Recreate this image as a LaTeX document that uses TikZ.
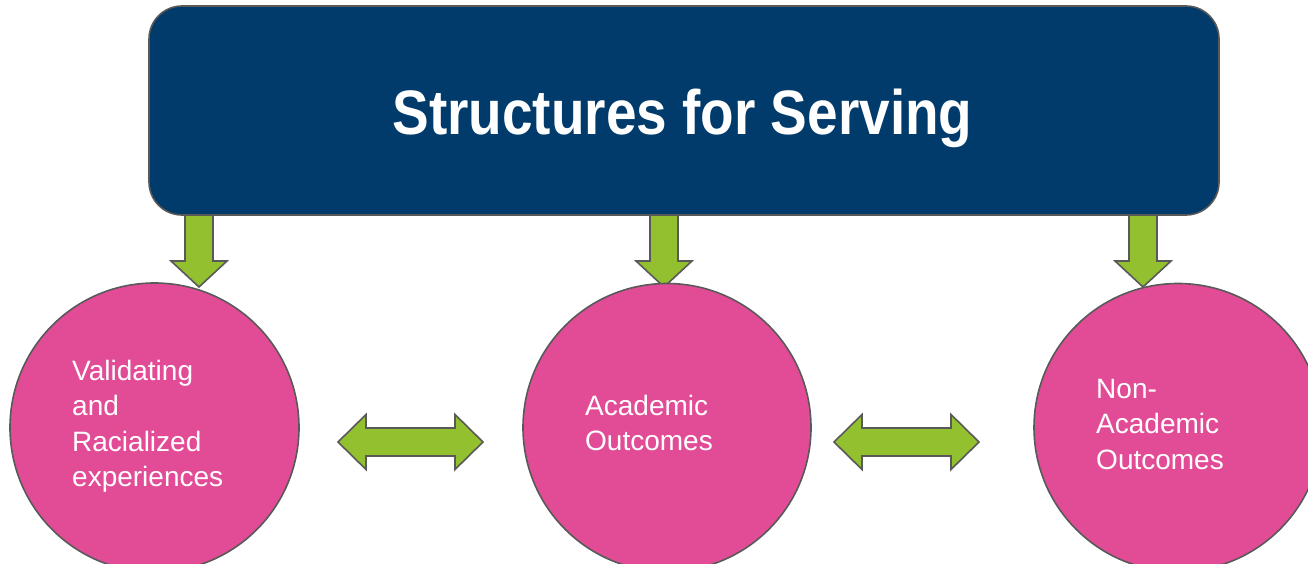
\documentclass[tikz,border=0pt]{standalone}
\usepackage{fontspec}
\setmainfont{Liberation Sans}
\newfontfamily\titlefont[FakeStretch=0.875]{Liberation Sans}
\definecolor{boxblue}{RGB}{0,59,107}
\definecolor{pinkc}{RGB}{226,76,151}
\definecolor{greena}{RGB}{146,192,46}
\definecolor{edgegray}{RGB}{89,89,89}
\tikzset{
  outline/.style={draw=edgegray,line width=1.6pt,line join=miter},
  topbox/.style={outline,fill=boxblue,rounded corners=33pt},
  bubble/.style={outline,fill=pinkc,circle,minimum size=#1,inner sep=0pt},
  blockarrow/.style={outline,fill=greena},
  bubbletext/.style={text=white,inner sep=0pt,anchor=base west,font=\fontsize{28}{35.5}\selectfont},
}
\begin{document}
\begin{tikzpicture}[x=1pt,y=-1pt]
\useasboundingbox (0,0) rectangle (1308,564);
% down arrows (drawn under box and circles)
\foreach \cx/\nm in {199/da, 664/db, 1143/dc}{
  \coordinate (\nm) at (\cx,215);
  \draw[blockarrow] ([xshift=-14pt]\nm) -- ++(0,46) -- ++(-14,0) -- ([yshift=-72pt]\nm)
     -- ([xshift=28pt,yshift=-46pt]\nm) -- ++(-14,0) -- ([xshift=14pt]\nm) -- cycle;
}
% title box
\draw[topbox] (149,6) rectangle (1219,215);
\node[text=white,font=\titlefont\bfseries\fontsize{62.8}{70}\selectfont,anchor=base,inner sep=0pt] (title) at (682.5,135) {Structures for Serving};
% circles
\node[bubble=289pt] (c1) at (154.5,427.5) {};
\node[bubble=288pt] (c2) at (667,427.5) {};
\node[bubble=288pt] (c3) at (1178,427.5) {};
% texts
\node[bubbletext] (t1) at (72,380) {\begin{tabular}[t]{@{}l@{}}Validating\\and\\Racialized\\experiences\end{tabular}};
\node[bubbletext] (t2) at (585,415) {\begin{tabular}[t]{@{}l@{}}Academic\\Outcomes\end{tabular}};
\node[bubbletext] (t3) at (1096,398) {\begin{tabular}[t]{@{}l@{}}Non-\\Academic\\Outcomes\end{tabular}};
% double arrows
\foreach \cx/\nm in {410.5/ha, 906.5/hb}{
  \coordinate (\nm) at (\cx,442);
  \draw[blockarrow] ([xshift=-72.5pt]\nm) -- ([xshift=-44.5pt,yshift=-27.5pt]\nm) -- ([xshift=-44.5pt,yshift=-14pt]\nm)
    -- ([xshift=44.5pt,yshift=-14pt]\nm) -- ([xshift=44.5pt,yshift=-27.5pt]\nm) -- ([xshift=72.5pt]\nm)
    -- ([xshift=44.5pt,yshift=27.5pt]\nm) -- ([xshift=44.5pt,yshift=14pt]\nm) -- ([xshift=-44.5pt,yshift=14pt]\nm)
    -- ([xshift=-44.5pt,yshift=27.5pt]\nm) -- cycle;
}
\end{tikzpicture}
\end{document}
